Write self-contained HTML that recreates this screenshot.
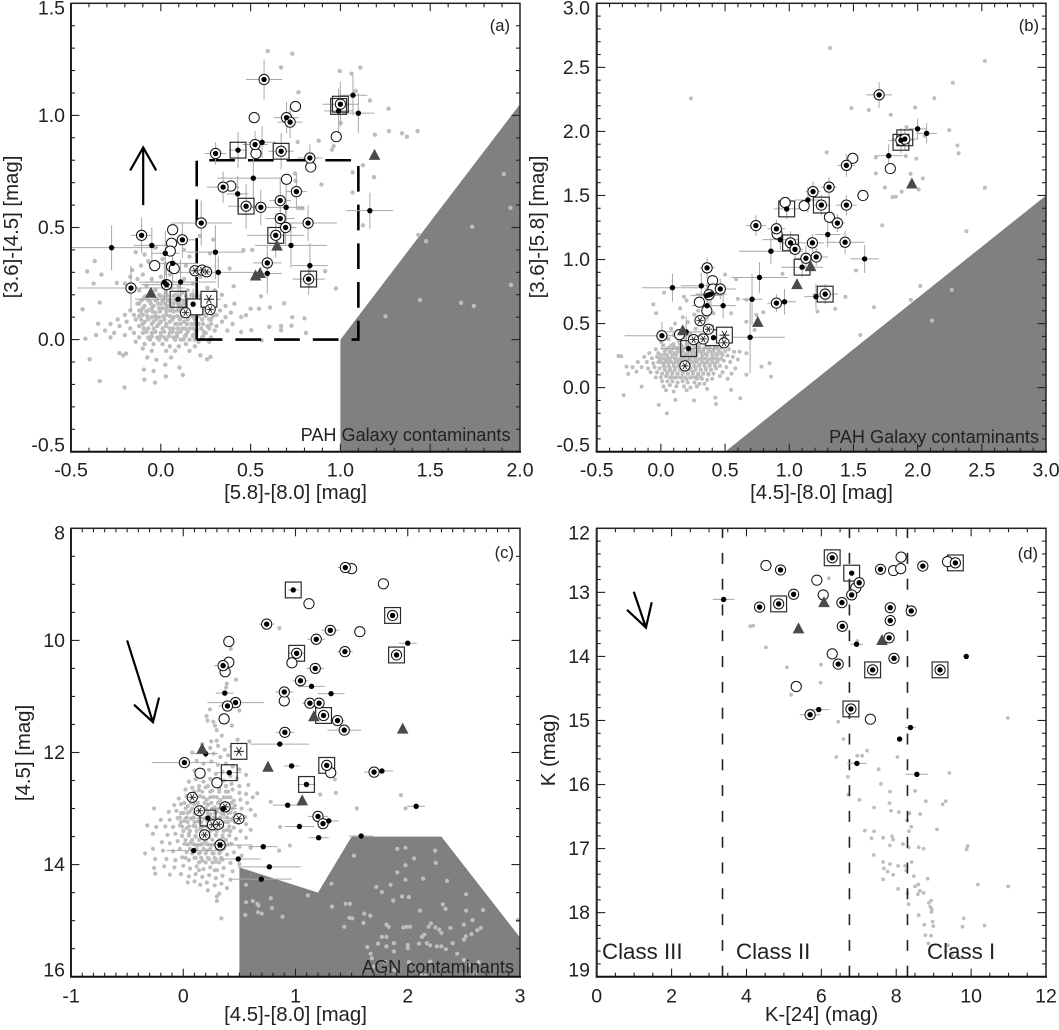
<!DOCTYPE html>
<html lang="en">
<head>
<meta charset="utf-8">
<title>Colour-colour and colour-magnitude diagrams</title>
<style>
html,body{margin:0;padding:0;background:#fff;}
svg{display:block;}
text{font-family:"Liberation Sans",sans-serif;fill:#222;}
.tick{font-size:19.5px;}
.title{font-size:20.4px;}
.tag{font-size:16.6px;}
.note{font-size:18.1px;}
.cls{font-size:22.3px;}
</style>
</head>
<body>
<svg id="figure" width="1059" height="1030" viewBox="0 0 1059 1030" xmlns="http://www.w3.org/2000/svg">
  <g id="marks"></g>
  <g>
    <text class="title" x="295.5" y="499" text-anchor="middle">[5.8]-[8.0] [mag]</text>
    <text class="title" transform="translate(18,227) rotate(-90)" text-anchor="middle">[3.6]-[4.5] [mag]</text>
    <text class="tag" x="510" y="31" text-anchor="end">(a)</text>
    <text class="note" x="510.5" y="441" text-anchor="end">PAH Galaxy contaminants</text>
    <text class="title" x="821.5" y="499" text-anchor="middle">[4.5]-[8.0] [mag]</text>
    <text class="title" transform="translate(544,227) rotate(-90)" text-anchor="middle">[3.6]-[5.8] [mag]</text>
    <text class="tag" x="1039" y="31" text-anchor="end">(b)</text>
    <text class="note" x="1039" y="443" text-anchor="end">PAH Galaxy contaminants</text>
    <text class="title" x="295.5" y="1021" text-anchor="middle">[4.5]-[8.0] [mag]</text>
    <text class="title" transform="translate(30,753) rotate(-90)" text-anchor="middle">[4.5] [mag]</text>
    <text class="tag" x="514" y="558" text-anchor="end">(c)</text>
    <text class="note" x="514" y="973" text-anchor="end">AGN contaminants</text>
    <text class="title" x="821.5" y="1021" text-anchor="middle">K-[24] (mag)</text>
    <text class="title" transform="translate(555,750) rotate(-90)" text-anchor="middle">K (mag)</text>
    <text class="tag" x="1038" y="559" text-anchor="end">(d)</text>
    <text class="cls" x="602" y="959">Class III</text>
    <text class="cls" x="736" y="959">Class II</text>
    <text class="cls" x="927" y="959">Class I</text>
  </g>
</svg>
<script>
/* ---------- Panel (a) data: rows are [x, y, xErr, yErr] ---------- */
const aRingDots=[[.575,1.16,.1,.09],[1.0,1.05,.1,.1],[.70,.99,.07,.07],[.72,.97,.07,.07],[.525,.87,.07,.06],[.305,.83,.06,.05],[.67,.84,.07,.08],[.83,.81,.07,.06],[.347,.68,.09,.07],[.755,.66,.06,.08],[.475,.595,.1,.1],[.557,.59,.05,.08],[.665,.62,.06,.1],[.665,.54,.08,.08],[.695,.50,.06,.08],[.225,.52,.17,.1],[.82,.52,.16,.08],[-.107,.465,.06,.08],[.12,.445,.07,.08],[.64,.465,.16,.1],[.593,.342,.08,.08],[.823,.27,.09,.07],[-.166,.23,.3,.1],[.032,.245,.14,.1]];
const aDots=[[1.07,1.09,.08,.09],[1.10,1.01,.09,.09],[.99,1.02,.08,.1],[.564,.88,.08,.07],[.43,.845,.05,.08],[.515,.72,.2,.09],[.428,.65,.06,.08],[.698,.59,.1,.1],[1.164,.575,.13,.08],[-.274,.41,.26,.1],[-.05,.42,.1,.08],[.025,.385,.08,.1],[.304,.39,.16,.12],[.725,.42,.2,.1],[.83,.33,.1,.1],[.593,.295,.08,.09],[.32,.30,.22,.07],[.066,.34,.14,.1],[.11,.257,.2,.1],[.02,.256,.14,.09],[.096,.18,.24,.05],[.18,.158,.06,.07]];
const aRings=[[.75,1.04],[.52,.99],[.977,.905],[.53,.83],[.835,.77],[.39,.685],[.70,.715],[.066,.49],[.06,.43],[.053,.395],[-.034,.33],[.06,.325],[.075,.317]];
const aStarRings=[[.19,.307],[.23,.31],[.255,.302],[.138,.12],[.275,.134],[.032,.245]];
const aSquares=[[1.0,1.05],[.99,1.04],[.43,.845],[.67,.84],[.475,.595],[.64,.465],[.823,.27],[.096,.18]];
const aWhiteSquares=[[.19,.146],[.268,.18]];
const aStars=[[.268,.18]];
const aTriangles=[[1.19,.825],[.647,.42],[-.055,.21],[.528,.287],[.553,.298]];
const aContaminantX=[1.0,1.0,2.0,2.0];
const aContaminantY=[-.5,0,1.05,-.5];
const aSelectionBoxX=[.2,1.1];
const aSelectionBoxY=[0,.8];
const aArrow=[-.098,.60,-.098,.857];
const aXTicks=['-0.5','0.0','0.5','1.0','1.5','2.0'];
const aYTicks=['-0.5','0.0','0.5','1.0','1.5'];
const aCoreY=[.195,.175,.16,.14,.125,.105,.09,.07,.05,.035,.015,0];
const aCoreX=[[-.08,-.04,0,.035,.07,.105,.14,.18,.22],[-.11,-.07,-.03,.01,.045,.08,.115,.15,.19,.23,.27],[-.12,-.055,-.015,.025,.06,.095,.13,.17,.205,.25],[-.1,-.05,-.01,.03,.065,.105,.145,.18,.215,.255,.29],[-.11,-.08,-.045,-.005,.03,.07,.11,.15,.19,.23,.27],[-.12,-.075,-.03,.015,.05,.09,.13,.17,.21,.25,.29],[-.11,-.07,-.025,.02,.065,.105,.15,.19,.23,.27],[-.1,-.05,-.01,.03,.08,.11,.145,.185,.235,.28],[-.095,-.04,.01,.05,.095,.135,.18,.225,.27],[-.08,-.03,.02,.065,.11,.15,.195,.24],[-.05,0,.045,.09,.135,.18,.235],[-.06,-.01,.03,.08,.125,.19]];
const aGray=[[.595,1.287],[.732,1.275],[.67,1.214],[.996,1.198],[1.062,1.186],[1.111,1.213],[.766,1.103],[1.085,1.109],[1.164,1.067],[1.268,1.03],[1.002,.966],[1.192,.914],[1.27,.93],[1.343,.92],[1.37,.905],[1.43,.93],[.762,.882],[.879,.887],[.962,.863],[.953,.847],[1.125,.778],[1.068,.746],[1.187,.725],[.747,.741],[.894,.692],[1.068,.656],[.75,.708],[.789,.586],[.77,.586],[1.125,.51],[1.91,.738],[1.947,.588],[1.734,.503],[1.434,.467],[1.477,.439],[.46,.399],[.509,.399],[.292,.446],[.274,.385],[.217,.463],[1.95,.244],[1.443,.176],[1.672,.164],[1.743,.15],[1.251,.104],[.975,.228],[.915,.305],[.8,.095],[.808,.03],[.728,.062],[.732,.1],[.687,.162],[.608,.143],[.547,.138],[.5,.138],[.558,.193],[.406,.238],[.383,.317],[.474,.109],[.447,.101],[.504,.042],[.447,.034],[.562,-.003],[.604,.057],[.67,.06],[.67,.042],
[-.436,.135],[-.41,.304],[-.368,.35],[-.33,.29],[-.374,.25],[-.245,.253],[-.34,.165],[-.349,.071],[-.42,.004],[-.396,-.088],[-.34,-.185],[-.202,-.213],[-.194,-.0625],[-.092,-.179],[-.032,-.192],[.028,-.164],[.123,-.158],[-.094,-.134],[-.075,-.08],[-.025,-.09],[.025,-.112],[.104,-.125],[-.04,-.14],[.22,-.07],[.258,-.088],[.277,-.077],[.057,-.08],
[-.14,.39],[-.09,.38],[-.03,.41],[-.11,.33],[-.16,.31],[-.07,.35],[.01,.36],[.13,.4],[.16,.37],[.09,.31],[.14,.33],[-.17,.28],[-.13,.27],[-.2,.25],[-.1,.29],[-.05,.27],[0,.28],[.05,.29],[.13,.27],[.18,.25],[.22,.28],[.26,.23],[.3,.22],[-.12,.22],[-.08,.24],[-.03,.22],[.01,.25],[.06,.23],[.1,.24],[.15,.22],[.2,.21],[-.01,.2],[.03,.21],[.08,.2],[.12,.21],[.17,.2],[.24,.2],[.34,.2],[-.09,.19],
[-.1,.18],[-.06,.17],[-.02,.18],[.02,.19],[.05,.17],[.09,.18],[.13,.17],[.16,.18],[.21,.17],[.25,.16],[.3,.17],[.36,.15],[.41,.16],[-.13,.16],[-.09,.15],[-.04,.15],[0,.16],[.04,.15],[.07,.16],[.11,.15],[.15,.15],[.19,.15],[.23,.14],[.28,.14],[.33,.13],[.39,.12],
[-.17,.13],[-.12,.13],[-.07,.13],[-.03,.12],[.01,.14],[.05,.13],[.09,.13],[.13,.12],[.17,.13],[.21,.12],[.25,.11],[.31,.11],[.36,.1],[-.2,.11],[-.15,.11],[-.1,.11],[-.05,.1],[-.01,.1],[.03,.11],[.07,.1],[.11,.1],[.15,.1],[.19,.1],[.23,.09],[.28,.09],[.34,.08],[.4,.07],
[-.24,.09],[-.19,.08],[-.14,.09],[-.09,.08],[-.04,.08],[0,.08],[.05,.08],[.09,.07],[.13,.08],[.17,.07],[.21,.07],[.26,.06],[.31,.06],[-.28,.07],[-.23,.06],[-.17,.05],[-.12,.06],[-.07,.05],[-.02,.06],[.03,.06],[.07,.05],[.12,.05],[.16,.05],[.2,.04],[.25,.03],[.3,.04],[.37,.04],
[-.31,.04],[-.26,.03],[-.2,.02],[-.15,.03],[-.1,.03],[-.05,.03],[0,.03],[.05,.03],[.09,.03],[.14,.02],[.18,.02],[.23,.01],[.28,.01],[-.36,.02],[-.28,.01],[-.12,.01],[-.07,.01],[-.02,.01],[.02,.01],[.07,.01],[.11,0],[.16,0],[.21,-.01],[.27,-.01],[-.14,-.01],[-.09,-.02],[-.04,-.02],[.01,-.02],[.05,-.03],[.1,-.03],[.14,-.02],[.19,-.03],[-.1,-.04],[-.05,-.05],[.03,-.05],[.08,-.05],[.16,-.05],[-.23,-.06],[-.21,-.07]];

/* ---------- Panel (b) data ---------- */
const bRingDots=[[1.70,2.285,.1,.1],[1.87,1.93,.1,.1],[1.90,1.94,.1,.08],[1.445,1.735,.07,.09],[1.31,1.565,.06,.08],[1.185,1.53,.06,.08],[1.445,1.425,.08,.08],[1.25,1.425,.07,.08],[.74,1.265,.08,.08],[.90,1.24,.07,.07],[1.375,1.285,.06,.07],[1.01,1.13,.08,.09],[1.18,1.13,.09,.07],[1.435,1.135,.15,.09],[1.045,1.08,.06,.07],[1.13,1.01,.08,.1],[1.21,1.02,.09,.07],[.36,.935,.06,.08],[.463,.77,.12,.08],[1.28,.73,.1,.08],[.90,.66,.07,.07],[.375,.725,.1,.08],[.008,.405,.29,.11]];
const bDots=[[2.0,2.02,.07,.08],[2.07,1.985,.08,.08],[1.775,1.81,.11,.09],[.98,1.395,.1,.08],[1.145,1.465,.1,.1],[1.30,1.195,.1,.1],[.93,1.155,.14,.08],[.857,1.065,.25,.1],[1.587,1.005,.11,.11],[1.10,.94,.16,.08],[.768,.86,.22,.12],[.09,.78,.24,.11],[.315,.795,.16,.1],[.36,.72,.13,.1],[.39,.73,.12,.1],[.485,.64,.1,.1],[.36,.64,.12,.12],[.71,.69,.08,.2],[.963,.67,.09,.1],[1.208,.71,.09,.1],[.695,.393,.27,.28],[.197,.435,.15,.12],[.216,.305,.22,.1],[.41,.39,.12,.1]];
const bRings=[[1.495,1.79],[1.787,1.71],[1.574,1.50],[.968,1.445],[1.116,1.42],[1.313,1.33],[.905,1.20],[.403,.835],[.405,.77],[.30,.667],[.358,.60],[.145,.414]];
const bStarRings=[[.305,.523],[.37,.456],[.255,.375],[.33,.38],[.492,.35],[.187,.17]];
const bSquares=[[1.87,1.915],[1.90,1.95],[.98,1.395],[1.25,1.425],[1.01,1.13],[1.10,.94],[1.28,.73],[.216,.305]];
const bWhiteSquares=[[.41,.39],[.495,.41]];
const bStars=[[.495,.41]];
const bTriangles=[[1.955,1.595],[1.166,.95],[1.06,.81],[.755,.515],[.17,.45]];
const bContaminantX=[.5,3.0,3.0,.5];
const bContaminantY=[-.5,1.5,-.5,-.5];
const bXTicks=['-0.5','0.0','0.5','1.0','1.5','2.0','2.5','3.0'];
const bYTicks=['-0.5','0.0','0.5','1.0','1.5','2.0','2.5','3.0'];
const bCoreY=[.34,.31,.285,.255,.225,.2,.17,.14,.11,.08];
const bCoreX=[[.1,.15,.2,.25,.3,.35,.4],[.06,.1,.14,.18,.22,.26,.3,.34,.38,.42,.47],[.03,.08,.13,.17,.21,.25,.29,.33,.37,.41,.45,.5],[0,.05,.09,.12,.16,.2,.24,.28,.32,.36,.4,.44,.48],[-.01,.03,.07,.11,.15,.19,.23,.27,.31,.35,.39,.43,.47],[0,.04,.08,.12,.16,.2,.24,.28,.32,.36,.4,.44],[.02,.06,.1,.14,.18,.22,.26,.3,.34,.38,.42],[.03,.07,.11,.15,.19,.23,.27,.31,.35,.39],[.05,.09,.13,.17,.21,.25,.29,.33,.37],[.07,.11,.15,.19,.23,.27,.31]];
const bGray=[[1.318,2.651],[.234,2.258],[1.484,2.182],[1.62,2.167],[1.79,2.13],[1.98,2.187],[2.13,2.26],[2.274,2.38],[2.524,2.55],[2.247,2.01],[1.913,2.034],[2.055,1.964],[2.31,1.89],[2.32,1.83],[1.908,1.807],[1.99,1.786],[1.674,1.797],[1.292,1.836],[1.674,1.672],[1.945,1.67],[2.04,1.633],[2.008,1.547],[1.876,1.53],[1.805,1.487],[1.83,1.49],[1.745,1.562],[2.524,1.56],[1.724,1.268],[2.38,1.22],
[-.29,-.06],[.047,-.2],[-.016,-.135],[.113,-.096],[.258,-.1],[.43,-.128],[.424,-.078],[.618,-.083],[.547,-.018],[-.058,.65],[-.037,.58],[.024,.742],[.18,.71],[.5,.883],[.587,.846],[.6,.693],[.666,.685],[.547,.58],[.666,.515],[.745,.568],[.797,.588],[.73,.45],[.613,.28],[.666,.268],[.784,.164],[.847,.19],[.858,.086],[.666,.1],[.947,.888],[1.22,.594],[1.358,.615],[1.437,.708],[1.52,.914],[1.66,.628],[1.553,.411],[1.947,.685],[2.02,.794],[2.266,.763],[2.113,.523],[-.33,.247],[-.308,.245],[-.268,.164],[-.255,.107],[-.19,.125],[-.15,.008],
[.02,.33],[.06,.38],[.1,.41],[.14,.36],[.19,.39],[.23,.42],[.27,.46],[.31,.41],[.35,.45],[.4,.48],[.44,.43],[.48,.46],[.11,.5],[.17,.55],[.21,.51],[.26,.57],[.29,.6],[.15,.62],[.2,.68],[.36,.55],[.41,.58],[.3,.5],[.08,.46],[-.04,.3],[-.09,.27],[-.13,.24],[-.18,.2],[-.22,.16],
[0,.36],[.04,.3],[.08,.33],[.12,.31],[.16,.33],[.2,.31],[.24,.34],[.28,.32],[.32,.35],[.36,.32],[.4,.34],[.44,.31],[.48,.33],[.53,.3],[.57,.28],[-.02,.27],[.03,.26],[.07,.28],[.11,.27],[.15,.28],[.19,.26],[.23,.28],[.27,.27],[.31,.28],[.35,.26],[.39,.28],[.43,.26],[.47,.27],[.52,.25],[.56,.24],[.6,.22],
[-.07,.23],[-.03,.24],[.01,.23],[.05,.23],[.09,.24],[.13,.22],[.17,.23],[.21,.22],[.25,.24],[.29,.22],[.33,.23],[.37,.22],[.41,.23],[.45,.22],[.49,.21],[.54,.2],[-.11,.2],[-.06,.19],[-.02,.2],[.02,.19],[.06,.2],[.1,.19],[.14,.19],[.18,.2],[.22,.18],[.26,.2],[.3,.18],[.34,.19],[.38,.18],[.42,.19],[.46,.17],[.51,.16],[.58,.15],
[-.15,.16],[-.1,.15],[-.05,.16],[-.01,.15],[.03,.16],[.07,.15],[.11,.16],[.15,.15],[.19,.16],[.23,.15],[.27,.16],[.31,.14],[.35,.15],[.39,.14],[.43,.15],[.48,.12],[.55,.11],[-.08,.12],[-.03,.12],[.01,.11],[.05,.12],[.09,.12],[.13,.11],[.17,.12],[.21,.11],[.25,.12],[.29,.1],[.33,.11],[.37,.1],[.41,.11],[.46,.09],[.52,.07],
[-.04,.08],[0,.08],[.04,.09],[.08,.08],[.12,.08],[.16,.08],[.2,.07],[.24,.08],[.28,.07],[.32,.07],[.36,.06],[.4,.07],[.01,.05],[.05,.05],[.09,.05],[.13,.04],[.17,.05],[.21,.04],[.26,.04],[.3,.03],[.34,.03],[.02,.01],[.07,.02],[.12,.01],[.18,.01],[.23,0],[.28,.01],[.36,-.01],[.04,-.02],[.1,-.03],[.2,-.02]];

/* ---------- Panel (c) data ---------- */
const cRingDots=[[1.444,8.70,.07],[1.865,9.555,.05],[.743,9.71,.07],[1.31,9.82,.08],[1.185,9.98,.08],[1.01,10.23,.08],[1.44,10.2,.07],[1.90,10.26,.05],[1.176,10.5,.08],[.355,10.45,.08],[1.044,10.72,.07],[.90,10.92,.08],[1.128,11.12,.07],[1.21,11.12,.05],[.466,11.11,.25],[.394,11.17,.08],[1.25,11.34,.05],[1.374,11.43,.06],[1.434,11.6,.15],[.905,11.64,.08],[.01,12.18,.29],[1.278,12.23,.05],[1.70,12.35,.09],[1.2,13.14,.09],[1.245,13.27,.05],[.328,13.65,.29]];
const cDots=[[.98,9.10,.05],[2.0,10.05,.08],[1.143,10.82,.12],[1.317,10.95,.12],[.37,10.94,.08],[.20,12.02,.11],[.86,11.85,.26],[.965,12.24,.07],[1.77,12.33,.1],[.41,12.36,.11],[1.098,12.57,.08],[.93,12.94,.13],[2.075,12.96,.08],[.358,13.0,.12],[.22,13.17,.22],[1.035,13.32,.13],[1.296,13.22,.09],[1.206,13.52,.09],[1.585,13.49,.11],[.713,13.68,.13],[.093,13.75,.24],[.49,13.9,.2],[.767,14.04,.28],[.695,14.26,.27]];
const cRings=[[1.50,8.72],[1.783,8.99],[1.12,9.345],[1.573,9.845],[.406,10.02],[.406,10.39],[.373,10.56],[.968,10.4],[.90,11.08],[.364,11.4],[.15,12.37],[1.314,12.36],[.30,12.54]];
const cStarRings=[[.08,12.8],[.144,13.04],[.26,13.29],[.313,13.28],[.373,12.97],[.496,13.18],[.19,13.47],[.328,13.65]];
const cSquares=[[.98,9.10],[1.865,9.555],[1.01,10.23],[1.90,10.26],[1.25,11.34],[1.278,12.23],[.41,12.36],[1.098,12.57],[.22,13.17]];
const cWhiteSquares=[[.496,11.98]];
const cStars=[[.496,11.98]];
const cTriangles=[[.168,11.93],[.755,12.25],[1.164,11.35],[1.955,11.57],[1.06,12.85]];
const cContaminantX=[.5,.5,1.2,1.5,2.3,3.0,3.0];
const cContaminantY=[16,14.05,14.5,13.5,13.5,15.3,16];
const cArrow=[-.5,10,-.27,11.46];
const cXTicks=['-1','0','1','2','3'];
const cYTicks=['8','10','12','14','16'];
const cCoreY=[12.6,12.7,12.8,12.9,13.0,13.08,13.16,13.24,13.32,13.4,13.48,13.56,13.64,13.72,13.8,13.88,13.96,14.1];
const cCoreX=[[.14,.22,.3,.38],[.1,.17,.24,.32,.4],[.06,.12,.18,.24,.3,.36,.42],[.01,.07,.13,.19,.25,.31,.37,.43],[.02,.08,.14,.2,.26,.32,.38,.44],[-.02,.04,.1,.16,.22,.28,.34,.4,.46],[-.03,.03,.09,.15,.21,.27,.33,.39,.45],[-.02,.04,.1,.16,.22,.28,.34,.4,.46],[-.01,.05,.11,.17,.23,.29,.35,.41],[0,.06,.12,.18,.24,.3,.36,.42],[-.01,.05,.11,.17,.23,.29,.35,.41],[.02,.08,.14,.2,.26,.32,.38],[.04,.1,.16,.22,.28,.34,.4],[.06,.12,.18,.24,.3,.36],[.08,.14,.2,.26,.32],[.02,.1,.16,.22,.28,.34],[.14,.2,.26,.32],[.14,.28]];
const cGray=[[.857,9.78],[.424,10.15],[.47,10.7],[.388,10.77],[.382,10.84],[.358,11.14],[.5,11.25],[.238,11.23],[.208,11.35],[.217,11.43],[.268,11.45],[.283,11.52],[.298,11.6],[.433,11.52],[.484,11.77],[.59,11.8],[.343,11.7],[.298,11.79],[.25,11.8],[.08,12.0],
[.78,12.88],[.66,12.73],[1.22,12.75],[1.35,12.48],[1.36,12.72],[1.94,12.76],[1.98,13.0],[1.546,13.0],[.863,13.33],[.95,13.66],[.854,13.75],[.34,14.96],[.3,14.65],[1.52,13.84],
[1.907,13.72],[1.98,13.7],[2.244,13.75],[2.057,13.89],[1.98,14.01],[1.907,14.14],[2.25,13.97],[2.138,14.25],[2.35,14.29],[1.98,14.27],[1.847,14.36],[1.72,14.4],[1.77,14.49],[1.32,14.34],[1.11,14.55],[1.95,14.57],[2.01,14.58],[1.87,14.64],[2.52,14.53],[1.446,14.7],[1.485,14.7],[1.326,14.75],[2.313,14.71],[2.337,14.79],[2.52,14.82],[2.11,14.82],[1.612,14.875],[1.666,14.91],[1.48,14.95],[1.507,14.96],[2.577,14.99],[2.67,14.81],[2.5,15.07],[1.606,15.04],[1.81,15.07],[1.83,15.11],[1.435,15.11],[1.96,15.12],[1.99,15.11],[2.02,15.11],[2.207,15.05],[2.186,15.11],[2.246,15.12],[2.28,15.16],[2.3,15.22],[2.38,15.13],[2.65,15.13],[2.62,15.17],[2.568,15.24],[2.517,15.28],[2.5,15.34],[2.4,15.4],[2.147,15.25],[2.126,15.29],[1.77,15.29],[1.81,15.29],[1.735,15.41],[1.64,15.47],[1.81,15.46],[2.0,15.43],[2.0,15.49],[2.1,15.41],[2.17,15.4],[2.2,15.44],[2.26,15.46],[2.3,15.46],[2.34,15.51],[1.877,15.4],[1.877,15.55],[1.67,15.59],[1.68,15.67],[2.44,15.59],[1.8,15.74],[2.01,15.74],[2.2,15.73],[2.63,15.74],[2.5,15.7],[2.54,15.79],[2.98,14.99],[1.7,15.82],[1.88,15.88],[2.12,15.98],[2.16,15.98],[2.6,15.95],
[.56,14.36],[.78,14.6],[.66,14.7],[.56,14.67],[.62,14.65],[.67,14.73],[.79,14.77],[.665,14.85],[.70,14.875],[.553,14.9],[.884,14.93],
[.17,11.85],[.24,11.92],[.31,11.88],[.37,11.95],[.43,11.9],[.2,12.05],[.27,12.02],[.33,12.08],[.4,12.05],[.47,12.1],[.12,12.15],[.18,12.2],[.25,12.16],[.31,12.22],[.38,12.2],[.44,12.25],[.5,12.3],[.1,12.32],[.17,12.36],[.23,12.31],[.29,12.38],[.35,12.35],[.42,12.42],[.48,12.46],[.56,12.4],[.05,12.52],[.11,12.48],[.18,12.52],[.24,12.47],[.3,12.55],[.36,12.5],[.43,12.56],[.5,12.6],[.58,12.58],[.02,12.66],[.08,12.63],[.14,12.67],[.2,12.62],[.26,12.68],[.32,12.65],[.38,12.7],[.44,12.66],[.5,12.72],[.56,12.74],[.62,12.8],[-.04,12.82],[.03,12.78],[.09,12.82],[.15,12.78],[.21,12.84],[.27,12.79],[.33,12.85],[.39,12.8],[.45,12.86],[.51,12.84],[.57,12.9],[-.08,12.94],[-.02,12.92],[.04,12.96],[.1,12.92],[.16,12.97],[.22,12.93],[.28,12.98],[.34,12.93],[.4,12.99],[.46,12.95],[.52,13.0],[.6,13.02],[-.26,13.0],[-.13,13.06],[-.06,13.04],[0,13.08],[.06,13.05],[.12,13.09],[.18,13.05],[.24,13.1],[.3,13.06],[.36,13.11],[.42,13.07],[.48,13.12],[.55,13.15],[.64,13.12],[-.2,13.2],[-.12,13.2],[-.05,13.17],[.01,13.22],[.07,13.18],[.13,13.23],[.19,13.18],[.25,13.23],[.31,13.19],[.37,13.24],[.43,13.2],[.49,13.26],[.56,13.28],[-.32,13.3],[-.24,13.33],[-.16,13.32],[-.09,13.33],[-.03,13.3],[.03,13.35],[.09,13.31],[.15,13.36],[.21,13.32],[.27,13.37],[.33,13.33],[.39,13.38],[.45,13.34],[.51,13.4],[.6,13.38],[-.27,13.45],[-.14,13.47],[-.07,13.45],[-.01,13.49],[.05,13.45],[.11,13.5],[.17,13.46],[.23,13.51],[.29,13.47],[.35,13.52],[.41,13.48],[.47,13.54],[.56,13.52],[-.19,13.6],[-.12,13.62],[-.05,13.58],[.01,13.63],[.07,13.6],[.13,13.65],[.19,13.6],[.25,13.65],[.31,13.62],[.37,13.67],[.43,13.63],[.5,13.68],[.6,13.7],[-.34,13.8],[-.27,13.72],[-.18,13.75],[-.09,13.76],[-.03,13.72],[.03,13.78],[.09,13.74],[.15,13.79],[.21,13.75],[.27,13.8],[.33,13.77],[.39,13.82],[.45,13.78],[.52,13.84],[-.25,13.9],[-.15,13.9],[-.07,13.92],[-.01,13.87],[.05,13.92],[.11,13.88],[.17,13.93],[.23,13.9],[.29,13.95],[.35,13.91],[.42,13.97],[.5,13.99],[-.26,14.06],[-.17,14.03],[-.08,14.05],[0,14.02],[.06,14.07],[.12,14.03],[.18,14.08],[.24,14.05],[.3,14.1],[.36,14.06],[.44,14.12],[-.25,14.16],[-.12,14.18],[-.02,14.17],[.05,14.21],[.11,14.17],[.17,14.22],[.23,14.19],[.29,14.24],[.35,14.2],[.42,14.27],[.04,14.32],[.1,14.3],[.15,14.36],[.21,14.32],[.28,14.37],[.34,14.34],[.39,14.42],[.22,14.46],[.32,14.52],[.3,14.57]];

/* ---------- Panel (d) data ---------- */
const dRingDots=[[6.29,12.46,0],[4.91,12.65,0],[7.58,12.64,0],[8.71,12.59,0],[9.58,12.54,0],[7.01,12.85,0],[5.26,13.03,0],[6.81,13.04,0],[4.35,13.23,0],[4.86,13.18,0],[6.55,13.16,0],[7.84,13.24,0],[8.40,13.29,0],[7.84,13.44,0],[6.56,13.53,0],[7.81,13.71,0],[7.94,14.03,0],[6.45,14.12,0],[7.37,14.21,0],[9.17,14.21,0],[6.79,14.82,0],[5.70,14.91,.28]];
const dDots=[[3.39,13.11,.29],[6.81,12.70,0],[6.94,13.81,.17],[9.87,14.0,0],[5.93,14.83,.28],[8.38,15.11,.14],[8.09,15.29,0],[6.95,15.67,.26],[8.55,15.84,.3]];
const dRings=[[4.52,12.58],[5.88,12.81],[6.05,13.04],[6.92,12.93],[7.93,12.66],[8.12,12.63],[8.13,12.45],[9.37,12.52],[6.29,13.96],[5.33,14.47],[7.31,14.98]];
const dSquares=[[6.29,12.46],[9.58,12.54],[4.86,13.18],[7.37,14.21],[9.17,14.21],[6.79,14.82],[6.81,12.70]];
const dTriangles=[[5.39,13.56],[6.07,13.15],[7.62,13.74]];
const dClassBoundaries=[3.36,6.75,8.3];
const dArrow=[.99,12.99,1.315,13.55];
const dXTicks=['0','2','4','6','8','10','12'];
const dYTicks=['12','13','14','15','16','17','18','19'];
const dGray=[[6.2,12.78],[6.96,13.76],[4.1,13.53],[4.18,13.52],[4.52,13.86],[5.08,14.17],[5.99,14.13],[5.98,14.41],[5.19,14.6],[6.45,15.02],[6.59,15.29],[10.98,14.96],[6.4,15.57],[6.96,15.55],[7.09,15.55],[7.22,15.47],[8.03,15.57],[7.53,15.76],[6.71,15.88],[9.42,15.82],[7.59,15.99],[7.83,16.11],[8.5,16.10],[6.72,16.16],[7.02,16.24],[7.82,16.29],[8.79,16.26],[9.32,16.26],[9.24,16.31],[7.41,16.36],[7.86,16.41],[8.07,16.43],[8.35,16.45],[8.64,16.46],[8.29,16.56],[8.4,16.66],[8.34,16.73],[9.09,16.7],[7.16,16.72],[7.41,16.73],[7.34,16.84],[7.65,16.83],[7.89,16.81],[7.92,16.86],[8.18,16.93],[7.83,16.95],[8.33,16.98],[8.6,16.98],[8.73,17.0],[9.91,16.96],[9.88,17.01],[7.4,17.1],[7.65,17.21],[7.83,17.24],[7.67,17.31],[7.77,17.36],[7.92,17.41],[8.05,17.27],[8.24,17.27],[8.41,17.21],[8.27,17.34],[8.47,17.43],[8.84,17.47],[7.65,17.48],[8.59,17.56],[8.5,17.59],[10.18,17.56],[10.99,17.59],[8.05,17.63],[8.63,17.66],[8.73,17.69],[8.58,17.71],[8.3,17.7],[8.93,17.81],[8.87,17.85],[8.33,17.87],[8.91,17.91],[8.95,17.95],[8.94,17.99],[8.6,18.04],[9.8,18.09],[8.97,18.14],[8.75,18.19],[8.99,18.21],[9.77,18.22],[10.36,18.2],[8.78,18.35],[8.93,18.36],[8.86,18.48],[9.38,18.51],[9.32,18.6],[9.49,18.66],[9.76,18.7]];

/* ---------- Drawing ---------- */
const NS='http://www.w3.org/2000/svg';
const root=document.getElementById('marks');
const GREY='#bdbdbd', ERR='#a8a8a8', AXIS='#222', FILL='#808080', TRI='#4a4a4a';

function make(parent,tag,name,attrs){
  const el=document.createElementNS(NS,tag);
  
  
  for(const k in attrs){el.setAttribute(k,attrs[k]);}
  parent.appendChild(el);
  return el;
}
function axisX(p,v){return p.left+(v-p.xMin)/(p.xMax-p.xMin)*(p.right-p.left);}
function axisY(p,v){return p.top+(v-p.yTop)/(p.yBottom-p.yTop)*(p.bottom-p.top);}

function drawAxes(g,p){
  make(g,'rect','plot-frame-'+p.id,{x:p.left,y:p.top,width:p.right-p.left,height:p.bottom-p.top,fill:'none',stroke:AXIS,'stroke-width':1.5});
  make(g,'line','x-axis-line-'+p.id,{x1:p.left-1,x2:p.right+1,y1:p.bottom,y2:p.bottom,stroke:'#111','stroke-width':2});
  make(g,'line','y-axis-line-'+p.id,{x1:p.left,x2:p.left,y1:p.top,y2:p.bottom,stroke:'#222','stroke-width':2});
  const nx=Math.round((p.xMax-p.xMin)/p.xMinor);
  for(let i=0;i<=nx;i++){
    const v=p.xMin+i*p.xMinor, x=axisX(p,v), major=i%p.xEvery===0, len=major?8:4;
    if(i===0||i===nx) continue;
    make(g,'line','x-tick-bottom-'+p.id,{x1:x,x2:x,y1:p.bottom,y2:p.bottom-len,stroke:AXIS,'stroke-width':1.1});
    make(g,'line','x-tick-top-'+p.id,{x1:x,x2:x,y1:p.top,y2:p.top+len,stroke:AXIS,'stroke-width':1.1});
  }
  const ny=Math.round(Math.abs(p.yBottom-p.yTop)/p.yMinor), dir=p.yBottom>p.yTop?1:-1;
  for(let i=0;i<=ny;i++){
    const v=p.yTop+dir*i*p.yMinor, y=axisY(p,v), major=i%p.yEvery===0, len=major?8.5:4;
    if(i===0||i===ny) continue;
    make(g,'line','y-tick-left-'+p.id,{x1:p.left,x2:p.left+len,y1:y,y2:y,stroke:AXIS,'stroke-width':1.1});
    make(g,'line','y-tick-right-'+p.id,{x1:p.right,x2:p.right-len,y1:y,y2:y,stroke:AXIS,'stroke-width':1.1});
  }
  p.xTicks.forEach(function(lab){
    const t=make(g,'text','x-tick-label-'+p.id,{x:axisX(p,parseFloat(lab)),y:p.xLabelY,'text-anchor':'middle',class:'tick'});
    t.textContent=lab;
  });
  p.yTicks.forEach(function(lab){
    const v=parseFloat(lab), y=axisY(p,v);
    let base=y+6.5;
    if(Math.abs(y-p.top)<1) base=y+11;
    if(Math.abs(y-p.bottom)<1) base=y;
    const t=make(g,'text','y-tick-label-'+p.id,{x:p.yLabelX,y:base,'text-anchor':'end',class:'tick'});
    t.textContent=lab;
  });
}
function drawFill(g,p,xs,ys){
  const pts=xs.map(function(x,i){return axisX(p,x).toFixed(1)+','+axisY(p,ys[i]).toFixed(1);}).join(' ');
  make(g,'polygon','contaminant-region-'+p.id,{points:pts,fill:FILL});
}
function drawGray(g,p,rows,r){
  rows.forEach(function(d){
    make(g,'circle','background-source-'+p.id,{cx:axisX(p,d[0]).toFixed(1),cy:axisY(p,d[1]).toFixed(1),r:r,fill:GREY});
  });
}
function drawCore(g,p,ys,xs,r){
  ys.forEach(function(y,i){
    xs[i].forEach(function(x){
      make(g,'circle','background-source-core-'+p.id,{cx:axisX(p,x).toFixed(1),cy:axisY(p,y).toFixed(1),r:r,fill:GREY});
    });
  });
}
function drawErrors(g,p,rows){
  rows.forEach(function(d){
    const x=axisX(p,d[0]), y=axisY(p,d[1]);
    if(d[2]){make(g,'line','x-error-bar-'+p.id,{x1:Math.max(p.left,axisX(p,d[0]-d[2])),x2:axisX(p,d[0]+d[2]),y1:y,y2:y,stroke:ERR,'stroke-width':1});}
    if(d[3]){make(g,'line','y-error-bar-'+p.id,{x1:x,x2:x,y1:axisY(p,d[1]-d[3]),y2:axisY(p,d[1]+d[3]),stroke:ERR,'stroke-width':1});}
  });
}
function drawSquares(g,p,rows,fill){
  rows.forEach(function(d){
    make(g,'rect','square-marker-'+p.id,{x:axisX(p,d[0])-7.9,y:axisY(p,d[1])-7.9,width:15.8,height:15.8,fill:fill,stroke:'#2b2b2b','stroke-width':1.2});
  });
}
function drawRings(g,p,rows){
  rows.forEach(function(d){
    make(g,'circle','ring-marker-'+p.id,{cx:axisX(p,d[0]),cy:axisY(p,d[1]),r:5.1,fill:'#fff',stroke:'#111','stroke-width':1});
  });
}
function drawDots(g,p,rows){
  rows.forEach(function(d){
    make(g,'circle','filled-dot-'+p.id,{cx:axisX(p,d[0]),cy:axisY(p,d[1]),r:2.7,fill:'#000'});
  });
}
function drawStars(g,p,rows,size){
  rows.forEach(function(d){
    const x=axisX(p,d[0]), y=axisY(p,d[1]), s=size;
    const path='M'+(x-s)+' '+y+'H'+(x+s)+'M'+(x-s*.5)+' '+(y-s*.87)+'L'+(x+s*.5)+' '+(y+s*.87)+'M'+(x-s*.5)+' '+(y+s*.87)+'L'+(x+s*.5)+' '+(y-s*.87);
    make(g,'path','star-marker-'+p.id,{d:path,stroke:'#222','stroke-width':.9,fill:'none'});
  });
}
function drawTriangles(g,p,rows){
  rows.forEach(function(d){
    const x=axisX(p,d[0]), y=axisY(p,d[1]);
    make(g,'polygon','triangle-marker-'+p.id,{points:(x-5.8)+','+(y+5.2)+' '+(x+5.8)+','+(y+5.2)+' '+x+','+(y-5.8),fill:TRI});
  });
}
function drawArrow(g,p,a,w1,w2){
  const x1=axisX(p,a[0]), y1=axisY(p,a[1]), x2=axisX(p,a[2]), y2=axisY(p,a[3]);
  const path='M'+x1+' '+y1+'L'+x2+' '+y2+'M'+(x2+w1[0])+' '+(y2+w1[1])+'L'+x2+' '+y2+'L'+(x2+w2[0])+' '+(y2+w2[1]);
  make(g,'path','reddening-arrow-'+p.id,{d:path,fill:'none',stroke:'#000','stroke-width':2.2});
}

const panelA={id:'a',left:71,right:520,top:3.3,bottom:451.7,xMin:-.5,xMax:2,yTop:1.5,yBottom:-.5,xMinor:.1,xEvery:5,yMinor:.1,yEvery:5,xTicks:aXTicks,yTicks:aYTicks,xLabelY:476.7,yLabelX:65};
const panelB={id:'b',left:596.7,right:1046,top:3.3,bottom:451.7,xMin:-.5,xMax:3,yTop:3,yBottom:-.5,xMinor:.1,xEvery:5,yMinor:.1,yEvery:5,xTicks:bXTicks,yTicks:bYTicks,xLabelY:476.7,yLabelX:590};
const panelC={id:'c',left:71,right:520,top:528.3,bottom:976.7,xMin:-1,xMax:3,yTop:8,yBottom:16,xMinor:.1,xEvery:10,yMinor:.5,yEvery:4,xTicks:cXTicks,yTicks:cYTicks,xLabelY:1002.7,yLabelX:65};
const panelD={id:'d',left:596.7,right:1046,top:528.3,bottom:976.7,xMin:0,xMax:12,yTop:12,yBottom:19,xMinor:.5,xEvery:4,yMinor:.2,yEvery:5,xTicks:dXTicks,yTicks:dYTicks,xLabelY:1002.7,yLabelX:590};

/* panel a */
(function(){
  const p=panelA, g=make(root,'g','panel-a',{});
  drawFill(g,p,aContaminantX,aContaminantY);
  drawGray(g,p,aGray,2.2);
  drawCore(g,p,aCoreY,aCoreX,2.2);
  const bx=aSelectionBoxX, by=aSelectionBoxY;
  const path='M'+axisX(p,bx[0])+' '+axisY(p,by[0])+'L'+axisX(p,bx[1])+' '+axisY(p,by[0])+'L'+axisX(p,bx[1])+' '+axisY(p,by[1])+'L'+axisX(p,bx[0])+' '+axisY(p,by[1])+'L'+axisX(p,bx[0])+' '+axisY(p,by[0]);
  make(g,'path','yso-selection-box',{d:path,fill:'none',stroke:'#000','stroke-width':2.6,'stroke-dasharray':'25.7 13'});
  drawErrors(g,p,aDots);drawErrors(g,p,aRingDots);
  drawSquares(g,p,aSquares,'none');drawSquares(g,p,aWhiteSquares,'#fff');
  drawRings(g,p,aRings);drawRings(g,p,aRingDots);drawRings(g,p,aStarRings);
  drawStars(g,p,aStarRings,3.6);drawStars(g,p,aStars,5);
  drawDots(g,p,aDots);drawDots(g,p,aRingDots);
  drawTriangles(g,p,aTriangles);
  drawArrow(g,p,aArrow,[-13,23],[13,23]);
  drawAxes(g,p);
})();
/* panel b */
(function(){
  const p=panelB, g=make(root,'g','panel-b',{});
  drawFill(g,p,bContaminantX,bContaminantY);
  drawGray(g,p,bGray,2);
  drawCore(g,p,bCoreY,bCoreX,2);
  drawErrors(g,p,bDots);drawErrors(g,p,bRingDots);
  drawSquares(g,p,bSquares,'none');drawSquares(g,p,bWhiteSquares,'#fff');
  drawRings(g,p,bRings);drawRings(g,p,bRingDots);drawRings(g,p,bStarRings);
  drawStars(g,p,bStarRings,3.6);drawStars(g,p,bStars,5);
  drawDots(g,p,bDots);drawDots(g,p,bRingDots);
  drawTriangles(g,p,bTriangles);
  drawAxes(g,p);
})();
/* panel c */
(function(){
  const p=panelC, g=make(root,'g','panel-c',{});
  drawFill(g,p,cContaminantX,cContaminantY);
  drawGray(g,p,cGray,2.1);
  drawCore(g,p,cCoreY,cCoreX,2.1);
  drawErrors(g,p,cDots);drawErrors(g,p,cRingDots);
  drawSquares(g,p,cSquares,'none');drawSquares(g,p,cWhiteSquares,'#fff');
  drawRings(g,p,cRings);drawRings(g,p,cRingDots);drawRings(g,p,cStarRings);
  drawStars(g,p,cStarRings,3.6);drawStars(g,p,cStars,5);
  drawDots(g,p,cDots);drawDots(g,p,cRingDots);
  drawTriangles(g,p,cTriangles);
  drawArrow(g,p,cArrow,[-18.9,-17.5],[6.1,-24.6]);
  drawAxes(g,p);
})();
/* panel d */
(function(){
  const p=panelD, g=make(root,'g','panel-d',{});
  drawGray(g,p,dGray,1.9);
  dClassBoundaries.forEach(function(v){
    const x=axisX(p,v);
    make(g,'line','class-boundary',{x1:x,x2:x,y1:p.bottom,y2:p.top,stroke:'#222','stroke-width':1.6,'stroke-dasharray':'11 14.8'});
  });
  drawErrors(g,p,dDots);drawErrors(g,p,dRingDots);
  drawSquares(g,p,dSquares,'none');
  drawRings(g,p,dRings);drawRings(g,p,dRingDots);
  drawDots(g,p,dDots);drawDots(g,p,dRingDots);
  drawTriangles(g,p,dTriangles);
  drawArrow(g,p,dArrow,[-18.9,-17.8],[5.8,-25.3]);
  drawAxes(g,p);
})();
</script>
</body>
</html>
